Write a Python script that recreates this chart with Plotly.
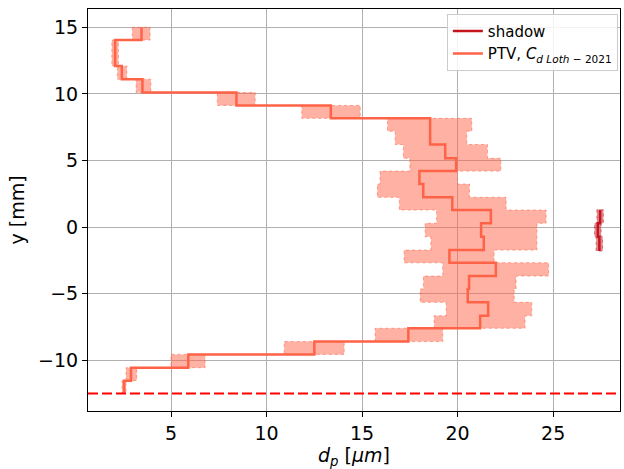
import plotly.graph_objects as go

# ---------------- data ----------------
# PTV step profile: bin edges in y [mm] (top -> bottom), mean diameter and band per bin
ptv_edges = [15.0, 14.04, 13.07, 12.1, 11.1, 10.1, 9.13, 8.16, 7.2, 6.2, 5.16, 4.2, 3.23,
             2.23, 1.28, 0.28, -0.73, -1.73, -2.68, -3.68, -4.65, -5.65, -6.66, -7.6,
             -8.6, -9.56, -10.56, -11.53, -12.44]
ptv_dp = [3.45, 2.07, 2.07, 2.42, 3.5, 8.42, 13.36, 18.56, 18.56, 19.35, 19.92, 18.0, 18.2,
          19.72, 21.74, 21.23, 21.37, 19.57, 22.0, 20.6, 20.53, 21.6, 21.18, 17.42, 12.5,
          5.9, 2.9, 2.54]
ptv_lo = [2.97, 1.9, 1.9, 2.19, 3.17, 7.42, 11.84, 16.33, 16.73, 17.16, 17.5, 15.94, 15.8,
          16.95, 18.9, 18.3, 18.6, 17.2, 19.22, 18.21, 18.04, 19.4, 18.77, 15.68, 10.92,
          5.0, 2.64, 2.43]
ptv_hi = [3.9, 2.24, 2.24, 2.68, 3.94, 9.4, 14.9, 20.74, 20.48, 21.56, 22.26, 19.99, 20.62,
          22.54, 24.63, 24.15, 24.15, 21.91, 24.76, 23.06, 22.96, 23.88, 23.53, 19.22, 14.06,
          6.78, 3.2, 2.64]

# Shadow measurement
shadow_edges = [1.3, 0.28, -0.73, -1.8]
shadow_dp = [27.46, 27.34, 27.42]
shadow_lo = [27.29, 27.17, 27.25]
shadow_hi = [27.63, 27.51, 27.59]

wall_y = -12.5

x_ticks = [5, 10, 15, 20, 25]
y_ticks = [-10, -5, 0, 5, 10, 15]

# ---------------- styles ----------------
PTV_COLOR = "#ff6347"
PTV_FILL = "rgba(255,99,71,0.5)"
SH_COLOR = "#c4141e"
SH_FILL = "rgba(196,20,30,0.5)"
FONT = "DejaVu Sans"


def step_line(edges, vals):
    xs = list(vals) + [vals[-1]]
    ys = list(edges)
    return xs, ys


def step_band(edges, lo, hi):
    xs, ys = [], []
    for i in range(len(lo)):
        xs += [lo[i], lo[i]]
        ys += [edges[i], edges[i + 1]]
    for i in reversed(range(len(hi))):
        xs += [hi[i], hi[i]]
        ys += [edges[i + 1], edges[i]]
    xs.append(xs[0])
    ys.append(ys[0])
    return xs, ys


fig = go.Figure()

# bands
bx, by = step_band(shadow_edges, shadow_lo, shadow_hi)
fig.add_trace(go.Scatter(x=bx, y=by, mode="lines", fill="toself", fillcolor=SH_FILL,
                         line=dict(color=SH_FILL, width=1, dash="dot"),
                         showlegend=False, hoverinfo="skip"))
bx, by = step_band(ptv_edges, ptv_lo, ptv_hi)
fig.add_trace(go.Scatter(x=bx, y=by, mode="lines", fill="toself", fillcolor=PTV_FILL,
                         line=dict(color="rgba(255,99,71,0.55)", width=1, dash="dot"),
                         showlegend=False, hoverinfo="skip"))

# lines
lx, ly = step_line(shadow_edges, shadow_dp)
fig.add_trace(go.Scatter(x=lx, y=ly, mode="lines", line=dict(color=SH_COLOR, width=2.5, shape="vh"),
                         name="shadow"))
lx, ly = step_line(ptv_edges, ptv_dp)
fig.add_trace(go.Scatter(x=lx, y=ly, mode="lines", line=dict(color=PTV_COLOR, width=2.5, shape="vh"),
                         name="PTV, <i>C</i><sub><i>d Loth</i> − 2021</sub>"))

fig.add_shape(type="line", xref="paper", x0=0, x1=1, yref="y", y0=wall_y, y1=wall_y,
              line=dict(color="#ff0000", width=2, dash="10px,4px"))

axis_common = dict(showgrid=True, gridcolor="#b0b0b0", gridwidth=1, zeroline=False,
                   showline=True, linecolor="black", linewidth=1, mirror=True,
                   ticks="outside", ticklen=5, tickcolor="black",
                   tickfont=dict(family=FONT, size=19, color="black"))

fig.update_layout(
    width=624, height=469,
    margin=dict(l=88, r=4, t=9, b=58),
    paper_bgcolor="white", plot_bgcolor="white",
    font=dict(family=FONT, color="black"),
    xaxis=dict(range=[0.65, 28.5], tickvals=x_ticks,
               title=dict(text="<i>d<sub>p</sub></i> [<i>μm</i>]", font=dict(family=FONT, size=19),
                          standoff=6),
               **axis_common),
    yaxis=dict(range=[-13.81, 16.37], tickvals=y_ticks,
               title=dict(text="y [mm]", font=dict(family=FONT, size=19), standoff=8),
               **axis_common),
    legend=dict(x=0.996, y=0.988, xanchor="right", yanchor="top",
                bgcolor="rgba(255,255,255,0.85)", bordercolor="#cccccc", borderwidth=1,
                font=dict(family=FONT, size=15, color="black")),
)

fig.write_html("out.html")
